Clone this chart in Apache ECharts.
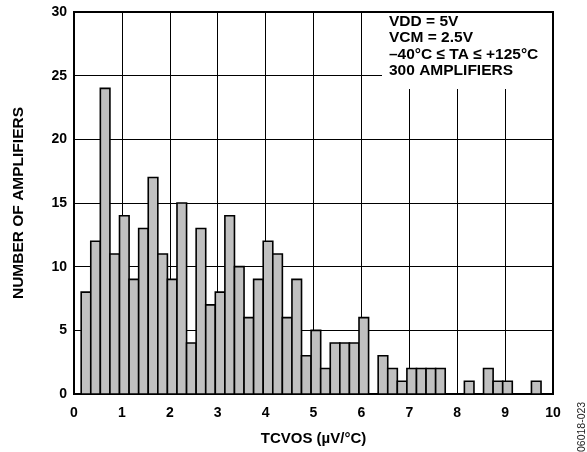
<!DOCTYPE html>
<html>
<head>
<meta charset="utf-8">
<script src="https://cdn.jsdelivr.net/npm/echarts@6/dist/echarts.min.js"></script>
<style>
  html, body { margin: 0; padding: 0; background: #fff; }
  #chart { width: 587px; height: 452px; }
</style>
</head>
<body>
<div id="chart"></div>
<script>
// Histogram of offset-voltage drift, 0.2 µV/°C bins
const binCenters = [
  0.25, 0.45, 0.65, 0.85, 1.05, 1.25, 1.45, 1.65, 1.85, 2.05,
  2.25, 2.45, 2.65, 2.85, 3.05, 3.25, 3.45, 3.65, 3.85, 4.05,
  4.25, 4.45, 4.65, 4.85, 5.05, 5.25, 5.45, 5.65, 5.85, 6.05,
  6.25, 6.45, 6.65, 6.85, 7.05, 7.25, 7.45, 7.65, 7.85, 8.05,
  8.25, 8.45, 8.65, 8.85, 9.05, 9.25, 9.45, 9.65
];
const counts = [
  8, 12, 24, 11, 14, 9, 13, 17, 11, 9,
  15, 4, 13, 7, 8, 14, 10, 6, 9, 12,
  11, 6, 9, 3, 5, 2, 4, 4, 4, 6,
  0, 3, 2, 1, 2, 2, 2, 2, 0, 0,
  1, 0, 2, 1, 1, 0, 0, 1
];
const binWidth = 0.2;
const xTicks = [0, 1, 2, 3, 4, 5, 6, 7, 8, 9, 10];
const yTicks = [0, 5, 10, 15, 20, 25, 30];
const noteLines = ['VDD = 5V', 'VCM = 2.5V', '\u201340\u00B0C \u2264 TA \u2264 +125\u00B0C', '300 AMPLIFIERS'];

const FONT = '"Liberation Sans", Arial, Helvetica, sans-serif';
const chart = echarts.init(document.getElementById('chart'), null, { renderer: 'canvas' });

const data = binCenters.map((c, i) => [c, counts[i]]);

chart.setOption({
  animation: false,
  backgroundColor: '#fff',
  grid: {
    left: 74, right: 34, top: 12, bottom: 58,
    show: true, borderColor: '#000', borderWidth: 2, backgroundColor: 'transparent'
  },
  xAxis: {
    type: 'value',
    min: xTicks[0], max: xTicks[xTicks.length - 1], interval: 1,
    name: 'TCVOS (\u00B5V/\u00B0C)',
    nameLocation: 'middle', nameGap: 37,
    nameTextStyle: { fontFamily: FONT, fontWeight: 'bold', fontSize: 15, color: '#000' },
    axisLine: { show: false },
    axisTick: { show: false },
    axisLabel: { fontFamily: FONT, fontWeight: 'bold', fontSize: 14, color: '#000', margin: 12 },
    splitLine: { show: true, lineStyle: { color: '#000', width: 1 } }
  },
  yAxis: {
    type: 'value',
    min: yTicks[0], max: yTicks[yTicks.length - 1], interval: 5,
    name: 'NUMBER OF AMPLIFIERS',
    nameLocation: 'middle', nameGap: 47, nameRotate: 90,
    nameTextStyle: { fontFamily: FONT, fontWeight: 'bold', fontSize: 15.5, color: '#000' },
    axisLine: { show: false },
    axisTick: { show: false },
    axisLabel: { fontFamily: FONT, fontWeight: 'bold', fontSize: 14, color: '#000', margin: 7 },
    splitLine: { show: true, lineStyle: { color: '#000', width: 1 } }
  },
  series: [{
    type: 'custom',
    data: data,
    encode: { x: 0, y: 1 },
    renderItem: function (params, api) {
      const x = api.value(0), y = api.value(1);
      if (!y) return null;
      const p0 = api.coord([x - binWidth / 2, y]);
      const p1 = api.coord([x + binWidth / 2, 0]);
      return {
        type: 'rect',
        shape: { x: p0[0], y: p0[1], width: p1[0] - p0[0], height: p1[1] - p0[1] },
        style: { fill: '#c0c0c0', stroke: '#000', lineWidth: 1.6 }
      };
    },
    z: 3
  }],
  graphic: [
    {
      type: 'rect', z: 100,
      shape: { x: 382, y: 13, width: 170, height: 76 },
      style: { fill: '#fff' }
    },
    {
      type: 'text', z: 101, x: 389, y: 13,
      style: {
        text: noteLines.join('\n'),
        font: 'bold 15.5px ' + FONT, fill: '#000', lineHeight: 16.5
      }
    },
    {
      type: 'text', z: 101, x: 582, y: 452, rotation: Math.PI / 2,
      style: {
        text: '06018-023', font: '10.5px ' + FONT, fill: '#222',
        align: 'left', verticalAlign: 'middle'
      }
    }
  ]
});
</script>
</body>
</html>
